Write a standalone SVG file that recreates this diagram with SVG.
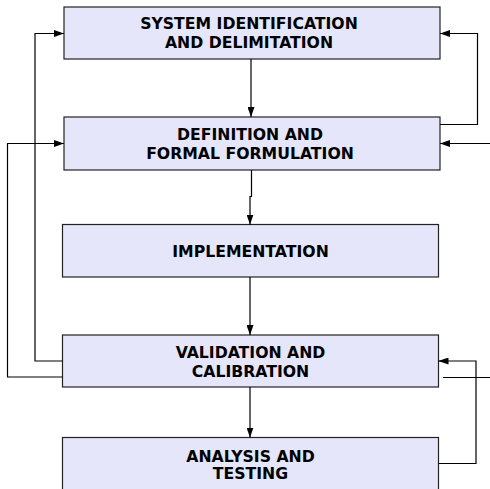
<svg xmlns="http://www.w3.org/2000/svg" width="490" height="489" viewBox="0 0 490 489">
<style>
.box{fill:#e6e6fa;stroke:#222;stroke-width:1.2}
.t{font-family:"DejaVu Sans",sans-serif;font-weight:bold;font-size:15.7px;fill:#000;text-anchor:middle}
.c{fill:none;stroke:#000;stroke-width:1.2}
</style>
<defs>
<marker id="a" viewBox="0 0 10 7" refX="10" refY="3.5" markerWidth="10" markerHeight="7" markerUnits="userSpaceOnUse" orient="auto">
<path d="M0,0 L10,3.5 L0,7 Z" fill="#000"/>
</marker>
</defs>
<rect x="0" y="0" width="490" height="489" fill="#fff"/>
<g id="n1"><rect class="box" x="64" y="7" width="376" height="52"/>
<text class="t" x="249" y="29">SYSTEM IDENTIFICATION</text><text class="t" x="249" y="48">AND DELIMITATION</text></g>
<g id="n2"><rect class="box" x="64" y="117" width="376" height="53"/>
<text class="t" x="250" y="140">DEFINITION AND</text><text class="t" x="250" y="159">FORMAL FORMULATION</text></g>
<g id="n3"><rect class="box" x="62.5" y="224.5" width="376" height="52.5"/>
<text class="t" x="250.5" y="256.5">IMPLEMENTATION</text></g>
<g id="n4"><rect class="box" x="62.5" y="335" width="376" height="52"/>
<text class="t" x="250.5" y="358">VALIDATION AND</text><text class="t" x="250.5" y="377">CALIBRATION</text></g>
<g id="n5"><rect class="box" x="62.5" y="437.5" width="376" height="60"/>
<text class="t" x="250.5" y="461.5">ANALYSIS AND</text><text class="t" x="250.5" y="479">TESTING</text></g>
<g id="connectors">
<path class="c" d="M251,59 V117" marker-end="url(#a)"/>
<path class="c" d="M251.5,170 V196.5 H250 V224.5" marker-end="url(#a)"/>
<path class="c" d="M250,277 V335" marker-end="url(#a)"/>
<path class="c" d="M250,387 V437.5" marker-end="url(#a)"/>
<path class="c" d="M62.5,361 H35 V33.5 H64" marker-end="url(#a)"/>
<path class="c" d="M62.5,377 H7.5 V143.5 H64" marker-end="url(#a)"/>
<path class="c" d="M440,124.5 H477.5 V33.5 H440" marker-end="url(#a)"/>
<path class="c" d="M490,143.5 H440" marker-end="url(#a)"/>
<path class="c" d="M438.5,463.5 H476 V361 H438.5" marker-end="url(#a)"/>
<path class="c" d="M443,377.5 H490"/>
</g>
</svg>
